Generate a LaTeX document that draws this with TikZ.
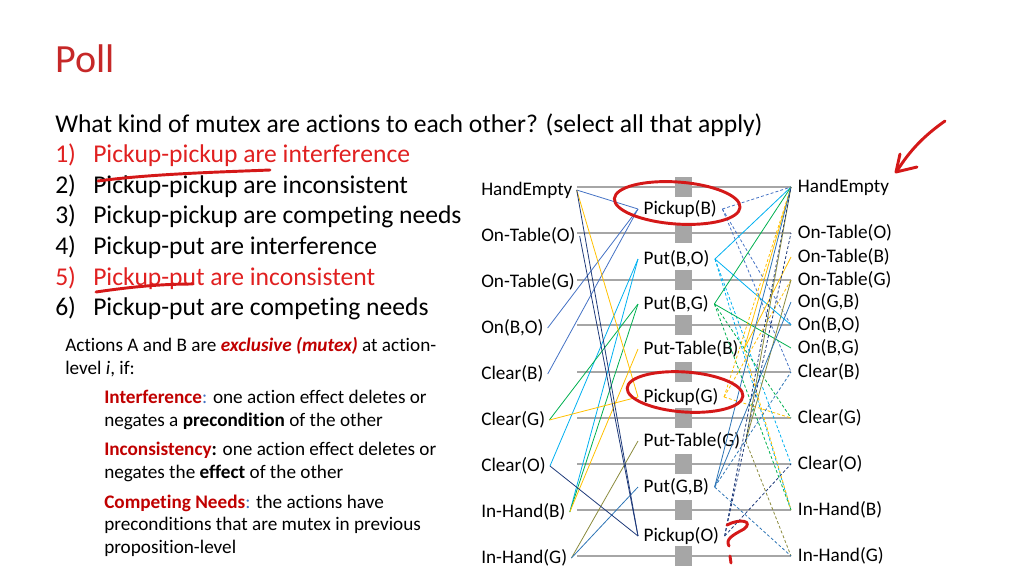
\documentclass[tikz,border=0pt]{standalone}
\usepackage{fontspec}
\setmainfont{Carlito}[Ligatures={NoCommon}]
\usepackage{tikz}
\usetikzlibrary{positioning}
\definecolor{titlered}{HTML}{C62828}
\definecolor{optred}{HTML}{E02020}
\definecolor{defred}{HTML}{C00000}
\definecolor{inkred}{HTML}{D41818}
\definecolor{pbgray}{HTML}{A6A6A6}
\definecolor{pbblue}{HTML}{4472C4}
\definecolor{pbcyan}{HTML}{00B0F0}
\definecolor{pbgreen}{HTML}{00B050}
\definecolor{pbgold}{HTML}{FFC000}
\definecolor{pbolive}{HTML}{8A8A3C}
\definecolor{pbsteel}{HTML}{2E75B6}
\definecolor{pbnavy}{HTML}{1F3A7A}
\tikzstyle{title}=[anchor=base west,inner sep=0pt,text=titlered,font=\fontsize{30}{36}\selectfont]
\tikzstyle{body}=[anchor=base west,inner sep=0pt,font=\fontsize{19.2}{23}\selectfont]
\tikzstyle{small}=[anchor=base west,inner sep=0pt,font=\fontsize{14.4}{17.25}\selectfont]
\tikzstyle{prop}=[anchor=west,inner xsep=3pt,inner ysep=1pt,font=\fontsize{14.4}{17.25}\selectfont]
\tikzstyle{nextprop}=[prop,inner xsep=5pt]
\tikzstyle{act}=[prop,inner xsep=4pt]
\tikzstyle{noop}=[draw=pbgray,line width=1.1pt]
\tikzstyle{nopbox}=[rectangle,fill=pbgray,minimum width=12.75pt,minimum height=15pt,inner sep=0pt]
\tikzstyle{pre}=[line width=0.6pt]
\tikzstyle{del}=[line width=0.6pt,dash pattern=on 2.2pt off 1.6pt]
\tikzstyle{scribble}=[draw=inkred,line width=2.2pt,line cap=round,line join=round]

\begin{document}
\begin{tikzpicture}[x=0.75pt,y=-0.75pt]
  \useasboundingbox (0,0) rectangle (1024,576);
  % question
  \node[title] at (55,72) (poll) {Poll};
  \node[body] at (55,132) (ask) {What kind of mutex are actions to each other? (select all that apply)};
  \node[body,text=optred] at (55,162) (opt1) {\makebox[28.5pt][l]{1)}Pickup-pickup are interference};
  \node[body] at (55,193) (opt2) {\makebox[28.5pt][l]{2)}Pickup-pickup are inconsistent};
  \node[body] at (55,223) (opt3) {\makebox[28.5pt][l]{3)}Pickup-pickup are competing needs};
  \node[body] at (55,254) (opt4) {\makebox[28.5pt][l]{4)}Pickup-put are interference};
  \node[body,text=optred] at (55,285) (opt5) {\makebox[28.5pt][l]{5)}Pickup-put are inconsistent};
  \node[body] at (55,315) (opt6) {\makebox[28.5pt][l]{6)}Pickup-put are competing needs};
  % definition
  \node[small] at (65,351) (defa) {Actions A and B are \textcolor{defred}{\textbf{\textit{exclusive (mutex)}}} at action-};
  \node[small] at (65,374) (defb) {level \textit{i}, if:};
  \node[small] at (104,403) (intfa) {\textcolor{defred}{\textbf{Interference}}\textcolor{pbblue}{:} one action effect deletes or};
  \node[small] at (104,426) (intfb) {negates a \textbf{precondition} of the other};
  \node[small] at (104,455) (incna) {\textbf{\textcolor{defred}{Inconsistency}:} one action effect deletes or};
  \node[small] at (104,478) (incnb) {negates the \textbf{effect} of the other};
  \node[small] at (104,508) (compa) {\textcolor{defred}{\textbf{Competing Needs}}\textcolor{pbblue}{:} the actions have};
  \node[small] at (104,530) (compb) {preconditions that are mutex in previous};
  \node[small] at (104,553) (compc) {proposition-level};
  % proposition level 1
  \node[prop] at (477,190) (lhe) {HandEmpty};
  \node[prop] at (477,236) (loto) {On-Table(O)};
  \node[prop] at (477,282) (lotg) {On-Table(G)};
  \node[prop] at (477,328) (lonbo) {On(B,O)};
  \node[prop] at (477,374) (lclb) {Clear(B)};
  \node[prop] at (477,420) (lclg) {Clear(G)};
  \node[prop] at (477,466) (lclo) {Clear(O)};
  \node[prop] at (477,512) (linb) {In-Hand(B)};
  \node[prop] at (477,558) (ling) {In-Hand(G)};
  % action level
  \node[act] at (638,209) (pkb) {Pickup(B)};
  \node[act] at (638,259) (ptbo) {Put(B,O)};
  \node[act] at (638,304) (ptbg) {Put(B,G)};
  \node[act] at (638,349) (pttb) {Put-Table(B)};
  \node[act] at (638,397) (pkg) {Pickup(G)};
  \node[act] at (638,441) (pttg) {Put-Table(G)};
  \node[act] at (638,487) (ptgb) {Put(G,B)};
  \node[act] at (638,536) (pko) {Pickup(O)};
  % proposition level 2
  \node[nextprop] at (791,187) (rhe) {HandEmpty};
  \node[nextprop] at (791,233) (roto) {On-Table(O)};
  \node[nextprop] at (791,257) (rotb) {On-Table(B)};
  \node[nextprop] at (791,280) (rotg) {On-Table(G)};
  \node[nextprop] at (791,302) (rongb) {On(G,B)};
  \node[nextprop] at (791,325) (ronbo) {On(B,O)};
  \node[nextprop] at (791,348) (ronbg) {On(B,G)};
  \node[nextprop] at (791,372) (rclb) {Clear(B)};
  \node[nextprop] at (791,418) (rclg) {Clear(G)};
  \node[nextprop] at (791,464) (rclo) {Clear(O)};
  \node[nextprop] at (791,510) (rinb) {In-Hand(B)};
  \node[nextprop] at (791,556) (ring) {In-Hand(G)};
  % no-ops
  \coordinate (gs) at (577,0);
  \draw[noop] (gs |- rhe) to (rhe.west);
  \draw[noop] (gs |- roto) to (roto.west);
  \draw[noop] (gs |- rotg) to (rotg.west);
  \draw[noop] (gs |- ronbo) to (ronbo.west);
  \draw[noop] (gs |- rclb) to (rclb.west);
  \draw[noop] (gs |- rclg) to (rclg.west);
  \draw[noop] (gs |- rclo) to (rclo.west);
  \draw[noop] (gs |- rinb) to (rinb.west);
  \draw[noop] (gs |- ring) to (ring.west);
  \node[nopbox] at (683.5,187) (nhe) {};
  \node[nopbox] at (683.5,233) (noto) {};
  \node[nopbox] at (683.5,280) (notg) {};
  \node[nopbox] at (683.5,325) (nonbo) {};
  \node[nopbox] at (683.5,372) (nclb) {};
  \node[nopbox] at (683.5,418) (nclg) {};
  \node[nopbox] at (683.5,464) (nclo) {};
  \node[nopbox] at (683.5,510) (ninb) {};
  \node[nopbox] at (683.5,556) (ning) {};
  % preconditions
  \draw[pre,pbblue] (lhe.east) to (pkb.west);
  \draw[pre,pbblue] (lonbo.east) to (pkb.west);
  \draw[pre,pbblue] (lclb.east) to (pkb.west);
  \draw[pre,pbcyan] (linb.east) to (ptbo.west);
  \draw[pre,pbcyan] (lclo.east) to (ptbo.west);
  \draw[pre,pbgreen] (linb.east) to (ptbg.west);
  \draw[pre,pbgreen] (lclg.east) to (ptbg.west);
  \draw[pre,pbgold] (linb.east) to (pttb.west);
  \draw[pre,pbgold] (lhe.east) to (pkg.west);
  \draw[pre,pbgold] (lclg.east) to (pkg.west);
  \draw[pre,pbolive] (ling.east) to (pttg.west);
  \draw[pre,pbsteel] (ling.east) to (ptgb.west);
  \draw[pre,pbnavy] (lhe.east) to (pko.west);
  \draw[pre,pbnavy] (loto.east) to (pko.west);
  \draw[pre,pbnavy] (lclo.east) to (pko.west);
  % effects
  \draw[del,pbblue] (pkb.east) to (rhe.west);
  \draw[del,pbblue] (pkb.east) to (ronbo.west);
  \draw[del,pbblue] (pkb.east) to (rclb.west);
  \draw[pre,pbcyan] (ptbo.east) to (rhe.west);
  \draw[pre,pbcyan] (ptbo.east) to (ronbo.west);
  \draw[del,pbcyan] (ptbo.east) to (rinb.west);
  \draw[del,pbcyan] (ptbo.east) to (rclo.west);
  \draw[pre,pbgreen] (ptbg.east) to (rhe.west);
  \draw[pre,pbgreen] (ptbg.east) to (ronbg.west);
  \draw[del,pbgreen] (ptbg.east) to (rinb.west);
  \draw[del,pbgreen] (ptbg.east) to (rclg.west);
  \draw[pre,pbgold] (pttb.east) to (rhe.west);
  \draw[pre,pbgold] (pttb.east) to (rotb.west);
  \draw[del,pbgold] (pttb.east) to (rinb.west);
  \draw[del,pbgold] (pkg.east) to (rhe.west);
  \draw[del,pbgold] (pkg.east) to (rotg.west);
  \draw[del,pbgold] (pkg.east) to (rclg.west);
  \draw[pre,pbolive] (pttg.east) to (rhe.west);
  \draw[pre,pbolive] (pttg.east) to (rotg.west);
  \draw[del,pbolive] (pttg.east) to (ring.west);
  \draw[pre,pbsteel] (ptgb.east) to (rhe.west);
  \draw[pre,pbsteel] (ptgb.east) to (rongb.west);
  \draw[del,pbsteel] (ptgb.east) to (ring.west);
  \draw[del,pbsteel] (ptgb.east) to (rclb.west);
  \draw[del,pbnavy] (pko.east) to (rhe.west);
  \draw[del,pbnavy] (pko.east) to (roto.west);
  \draw[del,pbnavy] (pko.east) to (rclo.west);
  % pen marks
  \draw[scribble] (98,181) .. controls (150,174) and (220,172) .. (270,170);
  \draw[scribble] (96,292) .. controls (130,287) and (160,284) .. (193,284);
  \draw[scribble] (pkb.center) ++(-3,-6) ellipse [x radius=63, y radius=21, rotate=-4];
  \draw[scribble] (pkg.center) ++(4,-5) ellipse [x radius=58, y radius=20, rotate=-4];
  \draw[scribble] (945,121) .. controls (925,135) and (910,150) .. (897,171);
  \draw[scribble] (900,154) -- (896,172) -- (917,167);
  \draw[scribble] (727,525) .. controls (740,518) and (754,521) .. (744,529) .. controls (733,535) and (725,539) .. (729,546);
  \draw[scribble] (730,556) -- (731,563);
\end{tikzpicture}
\end{document}
